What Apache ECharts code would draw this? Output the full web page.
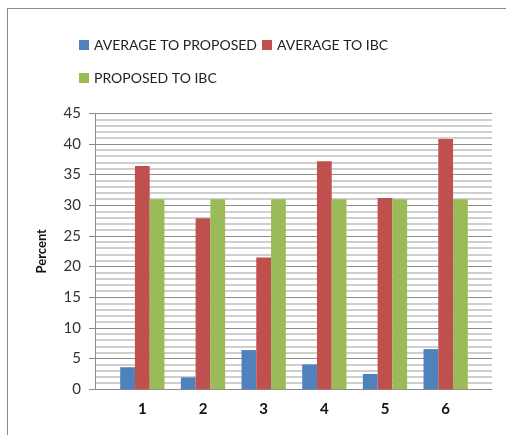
<!DOCTYPE html>
<html><head><meta charset="utf-8">
<script src="https://cdn.jsdelivr.net/npm/echarts@6/dist/echarts.min.js"></script>
<style>html,body{margin:0;padding:0;background:#fff}#c{width:506px;height:435px}</style>
</head><body><div id="c"></div>
<script>
const categories = ['1','2','3','4','5','6'];
const avgToProposed = [3.6, 1.95, 6.4, 4.05, 2.5, 6.55];
const avgToIBC = [36.4, 27.9, 21.5, 37.2, 31.2, 40.8];
const proposedToIBC = [31, 31, 31, 31, 31, 31];
const seriesNames = ['AVERAGE TO PROPOSED', 'AVERAGE TO IBC', 'PROPOSED TO IBC'];
const seriesColors = ['#4F81BD', '#C0504D', '#9BBB59'];
const yTicks = [0,5,10,15,20,25,30,35,40,45];

const FONT = 'Lato, "Open Sans", sans-serif';
const chart = echarts.init(document.getElementById('c'));
const yMin = yTicks[0], yMax = yTicks[yTicks.length-1], yStep = yTicks[1]-yTicks[0];
const legendBase = {icon:'rect', itemWidth:10, itemHeight:10, itemGap:5,
  textStyle:{fontFamily:FONT, fontSize:14, color:'#222'}, selectedMode:false};
chart.setOption({
  animation:false,
  backgroundColor:'#fff',
  legend:[
    Object.assign({left:74, top:33, data:[seriesNames[0], seriesNames[1]]}, legendBase),
    Object.assign({left:74, top:66, data:[seriesNames[2]]}, legendBase)
  ],
  grid:[
    {left:95, right:14, top:113.3, bottom:45.7, containLabel:false},
    {left:112, right:30, top:113.3, bottom:45.7, containLabel:false}
  ],
  xAxis:[
    {gridIndex:0, type:'value', min:0, max:1, axisLabel:{show:false}, axisTick:{show:false},
     splitLine:{show:false}, axisLine:{show:true, onZero:false, lineStyle:{color:'#8c8c8c', width:1}}},
    {gridIndex:1, type:'category', data:categories, axisLine:{show:false}, axisTick:{show:false},
     axisLabel:{margin:12, fontFamily:FONT, fontSize:15, fontWeight:'bold', color:'#111'}}
  ],
  yAxis:[
    {gridIndex:0, type:'value', min:yMin, max:yMax, interval:yStep,
     name:'Percent', nameLocation:'middle', nameGap:47, nameRotate:90,
     nameTextStyle:{fontFamily:FONT, fontSize:13, fontWeight:'bold', color:'#111'},
     axisLine:{show:true, lineStyle:{color:'#8c8c8c'}},
     axisTick:{show:true, length:6, lineStyle:{color:'#8c8c8c'}},
     axisLabel:{margin:14, fontFamily:FONT, fontSize:15, color:'#333'},
     splitLine:{show:true, lineStyle:{color:'#8c8c8c', width:1}},
     minorTick:{show:false, splitNumber:5},
     minorSplitLine:{show:true, lineStyle:{color:'#cfcfcf', width:2}}},
    {gridIndex:1, type:'value', min:yMin, max:yMax, interval:yStep, show:false,
     splitLine:{show:false}}
  ],
  series:[avgToProposed, avgToIBC, proposedToIBC].map((d,i)=>({
    name:seriesNames[i], type:'bar', xAxisIndex:1, yAxisIndex:1, data:d,
    itemStyle:{color:seriesColors[i]}, barGap:'0%', barCategoryGap:'27%'
  })),
  graphic:[
    {type:'line', shape:{x1:7, y1:8.5, x2:506, y2:8.5}, style:{stroke:'#8a8a8a', lineWidth:1}},
    {type:'line', shape:{x1:7.5, y1:8, x2:7.5, y2:435}, style:{stroke:'#8a8a8a', lineWidth:1}}
  ]
});
</script></body></html>
